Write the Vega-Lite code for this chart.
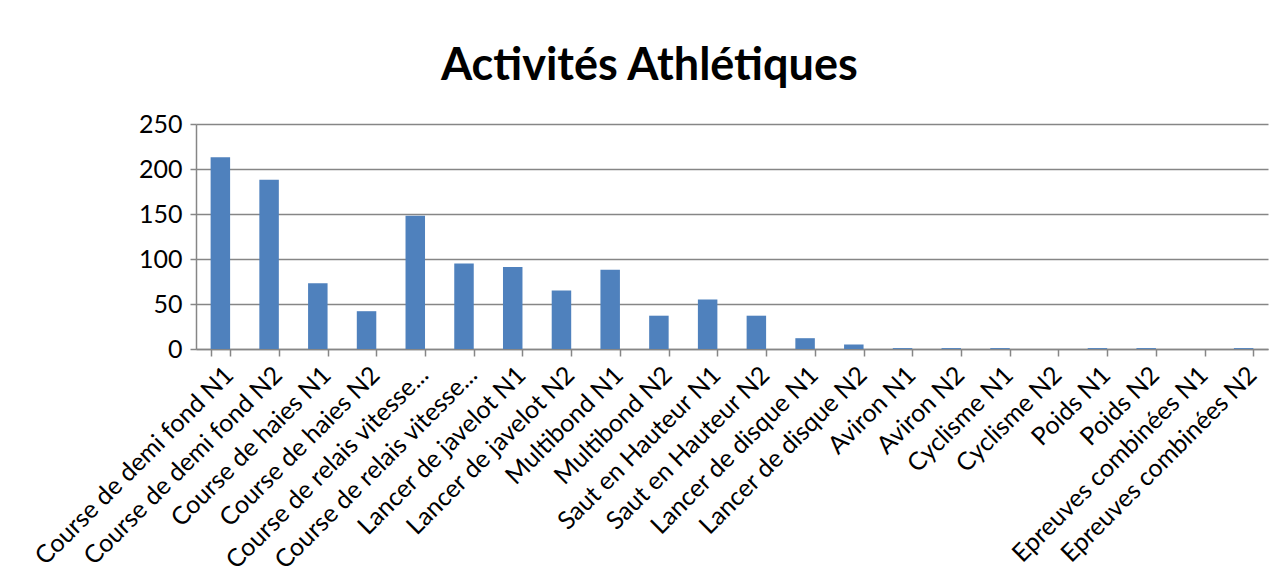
{
  "$schema": "https://vega.github.io/schema/vega-lite/v6.json",
  "width": 1072,
  "height": 225,
  "autosize": "none",
  "padding": {"left": 196, "top": 124, "right": 18, "bottom": 236},
  "background": "white",
  "title": {
    "text": "Activités Athlétiques",
    "font": "Lato",
    "fontSize": 45,
    "fontWeight": "bold",
    "color": "black",
    "anchor": "middle",
    "frame": "bounds",
    "offset": 23
  },
  "data": {
    "values": [
      {"cat": "Course de demi fond N1", "v": 213},
      {"cat": "Course de demi fond N2", "v": 188},
      {"cat": "Course de haies N1", "v": 73},
      {"cat": "Course de haies N2", "v": 42},
      {"cat": "Course de relais vitesse N1", "v": 148},
      {"cat": "Course de relais vitesse N2", "v": 95},
      {"cat": "Lancer de javelot N1", "v": 91},
      {"cat": "Lancer de javelot N2", "v": 65},
      {"cat": "Multibond N1", "v": 88},
      {"cat": "Multibond N2", "v": 37},
      {"cat": "Saut en Hauteur N1", "v": 55},
      {"cat": "Saut en Hauteur N2", "v": 37},
      {"cat": "Lancer de disque N1", "v": 12},
      {"cat": "Lancer de disque N2", "v": 5},
      {"cat": "Aviron N1", "v": 1},
      {"cat": "Aviron N2", "v": 1},
      {"cat": "Cyclisme N1", "v": 1},
      {"cat": "Cyclisme N2", "v": 0},
      {"cat": "Poids N1", "v": 1},
      {"cat": "Poids N2", "v": 1},
      {"cat": "Epreuves combinées N1", "v": 0},
      {"cat": "Epreuves combinées N2", "v": 1}
    ]
  },
  "mark": {"type": "bar", "color": "#4F81BD"},
  "encoding": {
    "x": {
      "field": "cat",
      "type": "nominal",
      "sort": null,
      "scale": {"paddingInner": 0.6, "paddingOuter": 0.3},
      "axis": {
        "title": null,
        "labelAngle": -45,
        "labelFont": "Lato",
        "labelFontSize": 25,
        "labelColor": "black",
        "labelPadding": 6,
        "labelLimit": 0,
        "labelExpr": "indexof(datum.label, 'relais') >= 0 ? 'Course de relais vitesse...' : datum.label",
        "domainColor": "#868686",
        "domainWidth": 1.5,
        "tickColor": "#868686",
        "tickWidth": 1.5,
        "tickSize": 7,
        "tickBand": "extent"
      }
    },
    "y": {
      "field": "v",
      "type": "quantitative",
      "scale": {"domain": [0, 250]},
      "axis": {
        "title": null,
        "values": [0, 50, 100, 150, 200, 250],
        "grid": true,
        "gridColor": "#868686",
        "gridWidth": 1.5,
        "labelFont": "Lato",
        "labelFontSize": 25,
        "labelColor": "black",
        "labelPadding": 8,
        "domainColor": "#868686",
        "domainWidth": 1.5,
        "tickColor": "#868686",
        "tickWidth": 1.5,
        "tickSize": 6
      }
    }
  },
  "config": {"view": {"stroke": null}}
}
